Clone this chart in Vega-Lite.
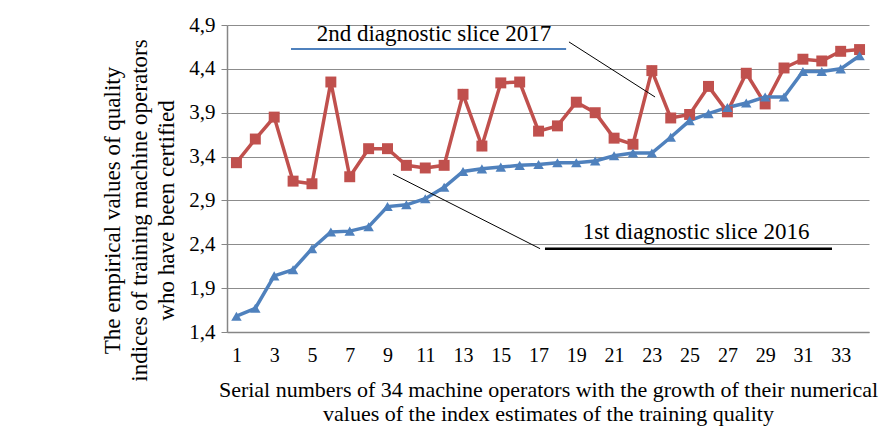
{
  "$schema": "https://vega.github.io/schema/vega-lite/v6.json",
  "width": 642,
  "height": 307,
  "autosize": {"type": "none"},
  "padding": {"left": 227, "top": 25, "right": 10, "bottom": 106},
  "background": "white",
  "config": {
    "view": {"stroke": null},
    "font": "Liberation Serif",
    "axis": {"labelFont": "Liberation Serif", "titleFont": "Liberation Serif", "labelColor": "black", "titleColor": "black", "titleFontWeight": "normal"}
  },
  "datasets": {
    "series": [
      {"n":1,"v":3.33,"s":"2017"},{"n":2,"v":3.60,"s":"2017"},{"n":3,"v":3.85,"s":"2017"},{"n":4,"v":3.12,"s":"2017"},{"n":5,"v":3.09,"s":"2017"},{"n":6,"v":4.25,"s":"2017"},{"n":7,"v":3.17,"s":"2017"},{"n":8,"v":3.49,"s":"2017"},{"n":9,"v":3.49,"s":"2017"},{"n":10,"v":3.30,"s":"2017"},{"n":11,"v":3.27,"s":"2017"},{"n":12,"v":3.30,"s":"2017"},{"n":13,"v":4.11,"s":"2017"},{"n":14,"v":3.52,"s":"2017"},{"n":15,"v":4.24,"s":"2017"},{"n":16,"v":4.25,"s":"2017"},{"n":17,"v":3.69,"s":"2017"},{"n":18,"v":3.75,"s":"2017"},{"n":19,"v":4.02,"s":"2017"},{"n":20,"v":3.90,"s":"2017"},{"n":21,"v":3.61,"s":"2017"},{"n":22,"v":3.54,"s":"2017"},{"n":23,"v":4.38,"s":"2017"},{"n":24,"v":3.84,"s":"2017"},{"n":25,"v":3.88,"s":"2017"},{"n":26,"v":4.20,"s":"2017"},{"n":27,"v":3.91,"s":"2017"},{"n":28,"v":4.35,"s":"2017"},{"n":29,"v":4.00,"s":"2017"},{"n":30,"v":4.41,"s":"2017"},{"n":31,"v":4.51,"s":"2017"},{"n":32,"v":4.49,"s":"2017"},{"n":33,"v":4.60,"s":"2017"},{"n":34,"v":4.62,"s":"2017"},
      {"n":1,"v":1.58,"s":"2016"},{"n":2,"v":1.67,"s":"2016"},{"n":3,"v":2.04,"s":"2016"},{"n":4,"v":2.11,"s":"2016"},{"n":5,"v":2.35,"s":"2016"},{"n":6,"v":2.54,"s":"2016"},{"n":7,"v":2.55,"s":"2016"},{"n":8,"v":2.60,"s":"2016"},{"n":9,"v":2.83,"s":"2016"},{"n":10,"v":2.85,"s":"2016"},{"n":11,"v":2.92,"s":"2016"},{"n":12,"v":3.05,"s":"2016"},{"n":13,"v":3.23,"s":"2016"},{"n":14,"v":3.26,"s":"2016"},{"n":15,"v":3.28,"s":"2016"},{"n":16,"v":3.30,"s":"2016"},{"n":17,"v":3.31,"s":"2016"},{"n":18,"v":3.33,"s":"2016"},{"n":19,"v":3.33,"s":"2016"},{"n":20,"v":3.35,"s":"2016"},{"n":21,"v":3.41,"s":"2016"},{"n":22,"v":3.44,"s":"2016"},{"n":23,"v":3.44,"s":"2016"},{"n":24,"v":3.62,"s":"2016"},{"n":25,"v":3.81,"s":"2016"},{"n":26,"v":3.89,"s":"2016"},{"n":27,"v":3.96,"s":"2016"},{"n":28,"v":4.01,"s":"2016"},{"n":29,"v":4.08,"s":"2016"},{"n":30,"v":4.08,"s":"2016"},{"n":31,"v":4.37,"s":"2016"},{"n":32,"v":4.37,"s":"2016"},{"n":33,"v":4.40,"s":"2016"},{"n":34,"v":4.55,"s":"2016"}
    ],
    "labels": [
      {"x": 11.46, "y": 4.80, "label": "2nd diagnostic slice 2017"},
      {"x": 25.34, "y": 2.54, "label": "1st diagnostic slice 2016"}
    ],
    "segs": [
      {"id": "u2017", "x": 3.89, "y": 4.627, "x2": 18.46, "y2": 4.627},
      {"id": "u2016", "x": 17.34, "y": 2.35, "x2": 32.54, "y2": 2.35},
      {"id": "lead", "x": 18.61, "y": 4.707, "x2": 23.17, "y2": 4.079},
      {"id": "lead", "x": 9.29, "y": 3.20, "x2": 17.08, "y2": 2.35}
    ]
  },
  "layer": [
    {
      "data": {"name": "series"},
      "mark": {"type": "line", "strokeWidth": 3.5},
      "encoding": {
        "x": {"field": "n", "type": "quantitative", "scale": {"domain": [0.5, 34.5], "nice": false, "zero": false},
          "axis": {"values": [1,3,5,7,9,11,13,15,17,19,21,23,25,27,29,31,33], "grid": false, "ticks": false, "domainColor": "#868686", "domainWidth": 1.5, "labelFontSize": 20, "labelPadding": 13,
            "title": ["Serial numbers of 34 machine operators with the growth of their numerical", "values of the index estimates of the training quality"],
            "titleFontSize": 22, "titleLineHeight": 24, "titlePadding": 14}},
        "y": {"field": "v", "type": "quantitative", "scale": {"domain": [1.4, 4.9], "nice": false, "zero": false},
          "axis": {"values": [1.4,1.9,2.4,2.9,3.4,3.9,4.4,4.9], "labelExpr": "replace(format(datum.value, '.1f'), '.', ',')", "grid": true, "gridColor": "#8c8c8c", "gridWidth": 1.2, "domainColor": "#868686", "domainWidth": 1.5, "tickColor": "#868686", "tickSize": 6, "labelFontSize": 21, "labelPadding": 6,
            "title": ["The empirical values of quality", "indices of training machine operators", "who have been certified"],
            "titleFontSize": 23, "titleLineHeight": 27, "titlePadding": 10, "titleY": 185, "titleAngle": 270, "titleAlign": "center"}},
        "color": {"field": "s", "type": "nominal", "scale": {"domain": ["2017", "2016"], "range": ["#C0504D", "#4F81BD"]}, "legend": null}
      }
    },
    {
      "data": {"name": "series"},
      "mark": {"type": "point", "filled": true, "opacity": 1},
      "encoding": {
        "x": {"field": "n", "type": "quantitative"},
        "y": {"field": "v", "type": "quantitative"},
        "color": {"field": "s", "type": "nominal", "legend": null},
        "shape": {"field": "s", "type": "nominal", "scale": {"domain": ["2017", "2016"], "range": ["square", "triangle-up"]}, "legend": null},
        "size": {"field": "s", "type": "nominal", "scale": {"domain": ["2017", "2016"], "range": [120, 110]}, "legend": null}
      }
    },
    {
      "data": {"name": "segs"},
      "transform": [{"filter": "datum.id === 'u2017'"}],
      "mark": {"type": "rule", "color": "#4F81BD", "strokeWidth": 2},
      "encoding": {"x": {"field": "x", "type": "quantitative"}, "y": {"field": "y", "type": "quantitative"}, "x2": {"field": "x2"}, "y2": {"field": "y2"}}
    },
    {
      "data": {"name": "segs"},
      "transform": [{"filter": "datum.id === 'u2016'"}],
      "mark": {"type": "rule", "color": "black", "strokeWidth": 2.5},
      "encoding": {"x": {"field": "x", "type": "quantitative"}, "y": {"field": "y", "type": "quantitative"}, "x2": {"field": "x2"}, "y2": {"field": "y2"}}
    },
    {
      "data": {"name": "segs"},
      "transform": [{"filter": "datum.id === 'lead'"}],
      "mark": {"type": "rule", "color": "black", "strokeWidth": 1},
      "encoding": {"x": {"field": "x", "type": "quantitative"}, "y": {"field": "y", "type": "quantitative"}, "x2": {"field": "x2"}, "y2": {"field": "y2"}}
    },
    {
      "data": {"name": "labels"},
      "mark": {"type": "text", "fontSize": 23, "color": "black", "align": "center", "baseline": "middle"},
      "encoding": {"x": {"field": "x", "type": "quantitative"}, "y": {"field": "y", "type": "quantitative"}, "text": {"field": "label"}}
    }
  ]
}
